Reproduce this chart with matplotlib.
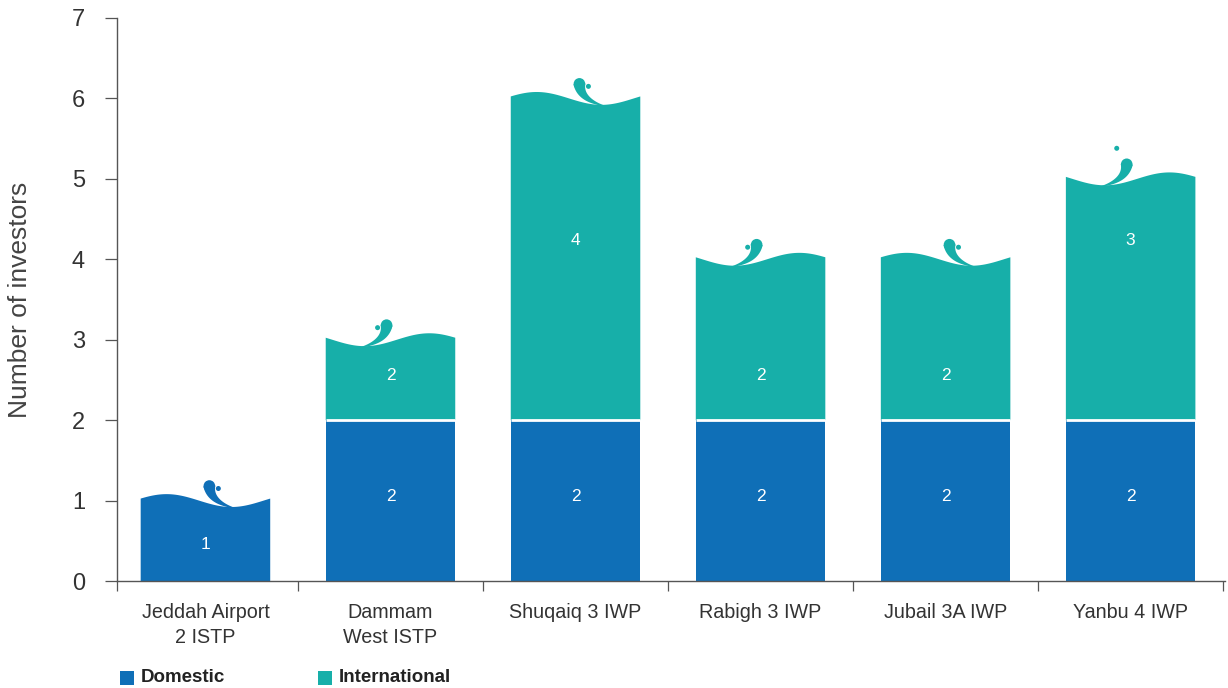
import numpy as np
import matplotlib
matplotlib.use("Agg")
import matplotlib.pyplot as plt
from matplotlib.patches import Polygon, Circle, Rectangle
from matplotlib.transforms import ScaledTranslation

plt.rcParams["font.family"] = ["Liberation Sans", "DejaVu Sans"]

# ---- data -------------------------------------------------------------
projects = ["Jeddah Airport\n2 ISTP", "Dammam\nWest ISTP", "Shuqaiq 3 IWP",
            "Rabigh 3 IWP", "Jubail 3A IWP", "Yanbu 4 IWP"]
domestic = [1, 2, 2, 2, 2, 2]
international = [0, 1, 4, 2, 2, 3]
# labels printed inside the segments
domestic_labels = ["1", "2", "2", "2", "2", "2"]
international_labels = ["", "2", "4", "2", "2", "3"]

# ---- styling ------------------------------------------------------------
DOM_COLOR = "#0F6FB7"
INT_COLOR = "#17AFA9"
TEXT_COLOR = "#333333"
AXIS_COLOR = "#555555"
BAR_WIDTH = 0.70
WAVE_AMP = 0.08
# which way each wave rolls (True = trough on the left, splash curls right)
wave_flipped = [False, True, False, True, False, True]
# vertical placement of the in-bar numbers
domestic_label_y = [0.45, 1.05, 1.05, 1.05, 1.05, 1.05]
international_label_y = [None, 2.56, 4.23, 2.56, 2.56, 4.23]

DPI = 100
fig = plt.figure(figsize=(12.28, 6.88), dpi=DPI)
ax = fig.add_axes([117 / 1228, 107 / 688, (1225 - 117) / 1228, (581 - 18) / 688])
ax.set_xlim(-0.478, 5.51)
ax.set_ylim(0, 7)


def wave(u, flipped):
    """Top edge profile of a bar, u in [0, 1] across the bar."""
    uu = 1 - u if flipped else u
    return WAVE_AMP * np.sin(2 * np.pi * (uu + 0.05))


def splash(x0, y0, color, flipped, dot_offset):
    """Curl of water rising out of the wave trough at data point (x0, y0).
    Shape is laid out in pixels relative to that point."""
    s = -1.0 if flipped else 1.0
    trans = fig.dpi_scale_trans + ScaledTranslation(x0, y0, ax.transData)
    px = 1.0 / DPI
    p0 = np.array([-22.0 * s, 21.0])   # head of the curl
    p1 = np.array([-21.0 * s, 5.0])
    p2 = np.array([3.0 * s, -1.0])     # joins the wave
    t = np.linspace(0, 1, 60)[:, None]
    pts = (1 - t) ** 2 * p0 + 2 * (1 - t) * t * p1 + t ** 2 * p2
    d = 2 * (1 - t) * (p1 - p0) + 2 * t * (p2 - p1)
    d /= np.linalg.norm(d, axis=1, keepdims=True)
    nrm = np.column_stack([-d[:, 1], d[:, 0]])
    w = 5.6 * (1 - t[:, 0]) ** 1.1 + 0.4
    left = pts + nrm * w[:, None]
    right = pts - nrm * w[:, None]
    poly = np.vstack([left, right[::-1]]) * px
    ax.add_patch(Polygon(poly, closed=True, transform=trans,
                         facecolor=color, edgecolor="none", zorder=3))
    ax.add_patch(Circle(p0 * px, 5.8 * px, transform=trans,
                        facecolor=color, edgecolor="none", zorder=3))
    dot = (p0 + np.array([dot_offset[0] * s, dot_offset[1]])) * px
    ax.add_patch(Circle(dot, 2.5 * px, transform=trans,
                        facecolor=color, edgecolor="none", zorder=3))


dot_offsets = [(9, -2.5), (9, -2.5), (9, -2.5), (9, -2.5), (9, -2.5), (10, 16)]

for i, (d, n) in enumerate(zip(domestic, international)):
    segments = [(0, d, DOM_COLOR, domestic_labels[i], domestic_label_y[i]),
                (d, n, INT_COLOR, international_labels[i],
                 international_label_y[i])]
    segments = [s for s in segments if s[1] > 0]
    left = i - BAR_WIDTH / 2
    for k, (base, height, color, label, label_y) in enumerate(segments):
        top = base + height
        is_top = k == len(segments) - 1
        if is_top:
            u = np.linspace(0, 1, 200)
            xs = left + u * BAR_WIDTH
            ys = top + wave(u, wave_flipped[i])
            verts = np.vstack([[left, base], np.column_stack([xs, ys]),
                               [left + BAR_WIDTH, base]])
            ax.add_patch(Polygon(verts, closed=True, facecolor=color,
                                 edgecolor="none", zorder=2))
            ut = 0.3 if wave_flipped[i] else 0.7
            splash(left + ut * BAR_WIDTH, top + wave(ut, wave_flipped[i]),
                   color, wave_flipped[i], dot_offsets[i])
        else:
            ax.bar(i, height, bottom=base, width=BAR_WIDTH, color=color,
                   linewidth=0, zorder=2)
        if label:
            ax.text(i, label_y, label, ha="center", va="center",
                    color="white", fontsize=12.5, zorder=4)
    if len(segments) > 1:
        ax.plot([left, left + BAR_WIDTH], [d, d], color="white", lw=2,
                zorder=4, solid_capstyle="butt")

# ---- axes ---------------------------------------------------------------
for side in ("top", "right"):
    ax.spines[side].set_visible(False)
for side in ("left", "bottom"):
    ax.spines[side].set_color(AXIS_COLOR)
    ax.spines[side].set_linewidth(1.0)

ax.set_yticks(range(0, 8))
ax.tick_params(axis="y", direction="out", length=9, width=0.9,
               color=AXIS_COLOR, labelsize=17, labelcolor=TEXT_COLOR, pad=14)
ax.set_xticks(range(len(projects)))
ax.set_xticklabels(projects, linespacing=1.4)
ax.tick_params(axis="x", which="major", length=0, labelsize=14.2,
               labelcolor=TEXT_COLOR, pad=16)
ax.set_xticks([-0.478] + [k + 0.5 for k in range(len(projects))], minor=True)
ax.tick_params(axis="x", which="minor", direction="out", length=7,
               width=0.9, color=AXIS_COLOR)

ax.set_ylabel("Number of investors", fontsize=19, color="#444444",
              va="center")
ax.yaxis.set_label_coords((20 - 117) / 1108, 0.5)

# ---- legend -------------------------------------------------------------
W, H = 1228, 688
for x_sq, color, name in [(120, DOM_COLOR, "Domestic"),
                          (318, INT_COLOR, "International")]:
    fig.patches.append(Rectangle((x_sq / W, (H - 685) / H), 14 / W, 14 / H,
                                 transform=fig.transFigure, facecolor=color,
                                 edgecolor="none"))
    fig.text((x_sq + 21) / W, (H - 678) / H, name, fontsize=13.5,
             fontweight="bold", color="#222222", va="center", ha="left")

fig.savefig("out.png", dpi=DPI)
